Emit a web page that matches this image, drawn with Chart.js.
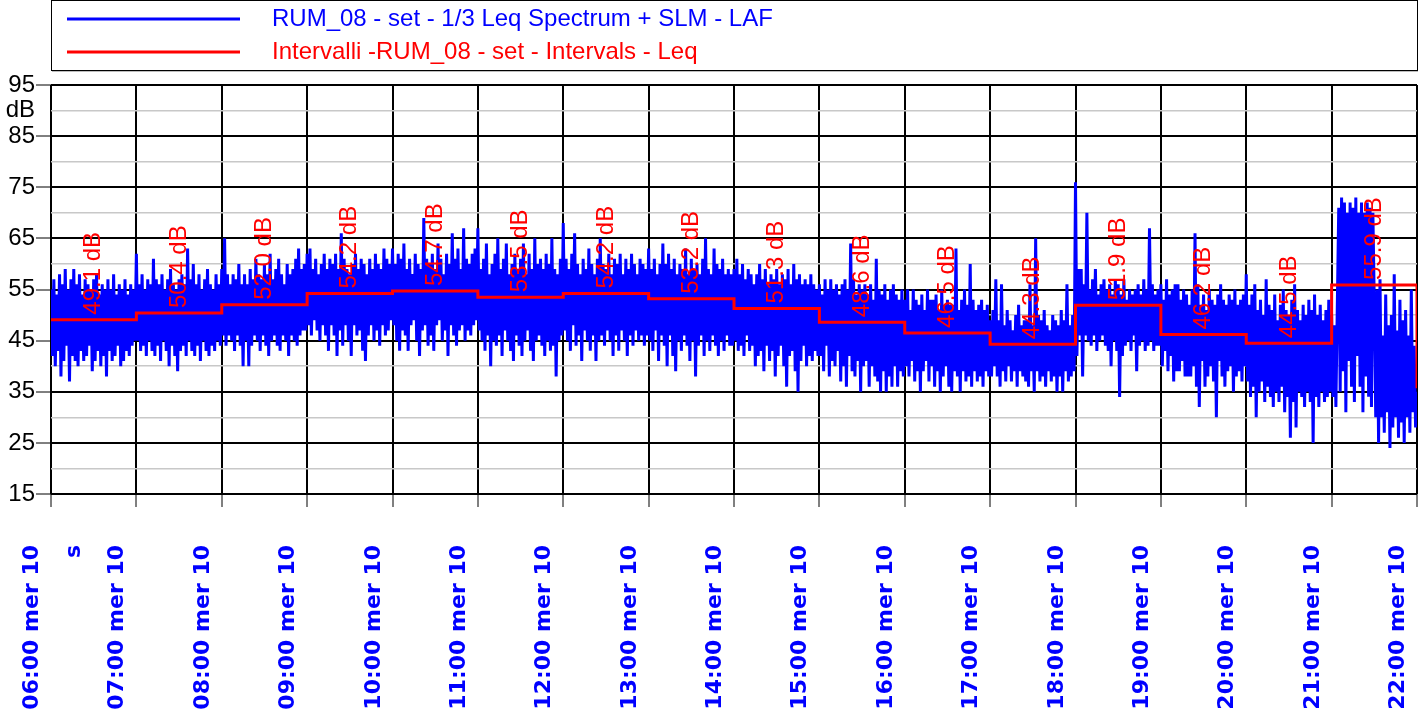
<!DOCTYPE html>
<html>
<head>
<meta charset="utf-8">
<script src="https://cdn.jsdelivr.net/npm/chart.js@4.4.1/dist/chart.umd.min.js"></script>
<style>
html,body{margin:0;padding:0;background:#fff;}
canvas{display:block;}
</style>
</head>
<body>
<canvas id="c" width="1423" height="715"></canvas>
<script>
// ---- DATA ----
const seriesLabels = ['RUM_08 - set - 1/3 Leq Spectrum + SLM - LAF', 'Intervalli -RUM_08 - set - Intervals - Leq'];
const hourTicks = [6,7,8,9,10,11,12,13,14,15,16,17,18,19,20,21,22];
const hourLabels = ['06:00 mer 10','07:00 mer 10','08:00 mer 10','09:00 mer 10','10:00 mer 10','11:00 mer 10','12:00 mer 10','13:00 mer 10','14:00 mer 10','15:00 mer 10','16:00 mer 10','17:00 mer 10','18:00 mer 10','19:00 mer 10','20:00 mer 10','21:00 mer 10','22:00 mer 10'];
const unitLabel = 's';
const yTickValues = [15,25,35,45,55,65,75,85,95];
const yUnit = 'dB';

// Hourly Leq (red step)
const intervalStarts = [6,7,8,9,10,11,12,13,14,15,16,17,18,19,20,21];
const leqValues = [49.1,50.4,52.0,54.2,54.7,53.5,54.2,53.2,51.3,48.6,46.5,44.3,51.9,46.2,44.5,55.9];
const leqAt22 = 35.7;

// LAF readings (blue), 60 per hour
const laf06 = [55,42,57,40,54,43,58,38,56,41,59,44,55,37,57,42,59,41,56,40,58,43,54,41,57,42,56,44,55,39,57,41,58,43,54,40,56,42,55,38,57,43,55,41,58,42,54,44,56,40,55,41,57,43,54,42,56,44,55,45];
const laf07 = [62,45,56,43,58,44,55,42,57,45,56,43,61,42,57,44,56,41,58,45,55,43,57,40,59,44,56,42,55,39,57,43,58,44,56,42,63,45,57,43,60,42,56,44,58,41,55,45,57,43,59,42,56,44,55,43,58,45,56,44];
const laf08 = [59,46,65,44,58,46,56,45,58,43,57,46,60,44,56,40,58,45,56,40,59,44,57,46,61,45,58,43,57,46,60,44,58,42,62,45,57,46,59,44,61,43,58,46,56,45,60,42,58,46,59,45,61,44,63,46,59,47,60,47];
const laf09 = [62,48,63,46,59,49,61,47,58,45,60,48,62,46,59,43,61,48,60,46,62,42,59,47,66,44,61,48,59,45,58,42,60,48,62,46,59,47,61,43,60,41,58,46,61,48,59,45,62,47,60,44,59,48,63,46,61,47,60,49];
const laf10 = [63,48,60,45,62,43,61,47,64,46,59,43,61,48,58,49,62,45,60,42,59,47,69,48,61,44,60,46,62,43,59,48,64,49,61,45,58,47,62,42,60,48,66,46,61,44,63,47,59,48,67,45,61,47,60,46,62,48,63,49];
const laf11 = [67,47,59,45,61,43,64,46,58,40,60,45,62,44,65,46,59,42,61,47,64,45,58,43,60,41,62,46,59,44,61,42,64,45,58,47,62,43,59,41,65,45,60,46,61,44,59,42,62,45,60,43,65,44,59,38,58,45,61,46];
const laf12 = [68,47,61,45,59,43,62,48,66,44,60,46,58,41,61,47,59,45,63,43,60,46,58,41,61,45,65,46,60,44,59,47,62,45,58,42,61,46,60,43,62,47,58,45,61,42,59,46,62,44,60,47,58,45,61,46,60,44,59,46];
const laf13 = [63,45,59,43,61,47,58,41,60,46,64,44,60,40,62,46,59,42,61,39,58,45,60,43,59,46,63,44,58,41,61,45,59,38,60,44,58,46,61,42,65,45,59,43,58,46,63,44,60,42,59,45,61,43,58,46,59,44,58,44];
const laf14 = [59,45,61,43,58,44,60,42,57,46,59,43,58,44,56,40,58,42,60,43,57,39,59,44,56,41,58,43,57,38,59,42,56,44,58,40,57,36,59,42,56,43,60,39,57,35,58,41,56,44,57,40,56,42,58,41,56,43,55,42];
const laf15 = [56,42,54,39,57,44,55,38,57,41,55,40,56,43,54,37,56,40,57,36,55,42,64,39,57,38,54,41,56,35,55,40,56,41,54,36,56,40,53,38,61,37,55,35,54,39,56,35,53,38,55,36,56,40,54,36,53,39,55,38];
const laf16 = [53,40,55,38,51,41,55,37,53,39,52,35,54,39,51,41,55,37,53,40,53,36,54,39,51,35,55,38,52,40,53,36,52,35,52,39,63,38,51,35,53,39,55,37,52,38,60,36,53,39,51,37,52,38,53,36,51,39,52,38];
const laf17 = [49,38,51,40,57,38,49,36,56,39,48,37,51,40,49,37,47,39,50,36,52,39,48,38,49,37,49,36,56,39,48,35,65,39,50,37,49,38,51,36,48,39,47,37,50,38,49,35,48,38,51,35,49,39,56,37,48,38,50,39];
const laf18 = [76,42,59,46,59,38,56,46,70,45,55,44,57,46,59,43,54,45,56,46,57,44,55,43,56,40,54,45,57,43,56,34,54,42,57,44,53,45,55,43,54,46,55,39,56,44,54,45,57,43,55,44,67,45,56,43,54,44,55,44];
const laf19 = [56,40,53,43,57,39,54,42,55,37,56,39,56,39,53,41,55,38,54,38,52,38,55,40,66,36,56,32,52,41,54,36,51,38,55,40,53,37,52,30,54,41,56,38,53,36,52,39,54,40,53,35,55,38,52,39,53,37,54,40];
const laf20 = [58,37,52,34,54,36,56,30,51,35,53,37,50,33,57,36,52,34,51,32,54,35,49,33,52,36,55,31,51,34,50,26,53,33,56,28,51,35,49,34,52,32,50,35,53,33,51,25,54,34,50,32,52,35,49,33,51,34,53,35];
const laf21 = [50,34,48,32,52,71,35,73,39,72,31,70,41,72,36,71,33,73,42,70,36,72,31,70,38,72,34,71,32,70,52,30,55,25,57,30,46,27,54,31,48,24,50,28,58,30,47,26,53,29,49,25,51,30,46,27,55,31,44,28];
const lafAt22 = 35;

// ---- BUILD ----
const lafHours = [laf06,laf07,laf08,laf09,laf10,laf11,laf12,laf13,laf14,laf15,laf16,laf17,laf18,laf19,laf20,laf21];
const lafPoints = [];
lafHours.forEach((arr, h) => {
  arr.forEach((v, i) => lafPoints.push({x: intervalStarts[h] + i / arr.length, y: v}));
});
lafPoints.push({x: 22, y: lafAt22});

const leqPoints = intervalStarts.map((h, i) => ({x: h, y: leqValues[i]}));
leqPoints.push({x: 22, y: leqAt22});

const BLUE = '#0000ff', RED = '#ff0000';
const SANS = '"Liberation Sans", Arial, sans-serif';

const decorPlugin = {
  id: 'decor',
  afterDatasetsDraw(chart) {
    const ctx = chart.ctx, xs = chart.scales.x, ys = chart.scales.y;
    ctx.save();
    ctx.fillStyle = RED;
    ctx.font = '24px ' + SANS;
    ctx.textAlign = 'left';
    ctx.textBaseline = 'middle';
    intervalStarts.forEach((h, i) => {
      const cx = (xs.getPixelForValue(h) + xs.getPixelForValue(h + 1)) / 2;
      const cy = ys.getPixelForValue(leqValues[i]) - 5;
      ctx.save();
      ctx.translate(cx, cy);
      ctx.rotate(-Math.PI / 2);
      ctx.fillText(leqValues[i].toFixed(1) + ' dB', 0, 0);
      ctx.restore();
    });
    ctx.restore();
  },
  afterDraw(chart) {
    const ctx = chart.ctx, xs = chart.scales.x;
    const area = chart.chartArea;
    ctx.save();
    ctx.fillStyle = BLUE;
    ctx.font = 'bold 22px "DejaVu Sans", Verdana, sans-serif';
    ctx.textAlign = 'right';
    ctx.textBaseline = 'alphabetic';
    hourTicks.forEach((h, i) => {
      const px = xs.getPixelForValue(h) - 13;
      ctx.save();
      ctx.translate(px, area.bottom + 51);
      ctx.rotate(-Math.PI / 2);
      ctx.fillText(hourLabels[i], 0, 0);
      ctx.restore();
    });
    ctx.save();
    ctx.translate(xs.getPixelForValue(6) + 29, area.bottom + 51);
    ctx.rotate(-Math.PI / 2);
    ctx.fillText(unitLabel, 0, 0);
    ctx.restore();
    ctx.restore();

    // legend box
    ctx.save();
    const lx = area.left, rx = area.right;
    ctx.fillStyle = '#bdbdbd';
    ctx.fillRect(lx + 1, 70, rx - lx, 2);
    ctx.strokeStyle = '#000';
    ctx.lineWidth = 1;
    ctx.strokeRect(lx + 0.5, 0.5, rx - lx, 70);
    const rows = [{c: BLUE, y: 19}, {c: RED, y: 52}];
    rows.forEach((r, i) => {
      ctx.strokeStyle = r.c;
      ctx.lineWidth = 3;
      ctx.beginPath();
      ctx.moveTo(lx + 16, r.y);
      ctx.lineTo(lx + 189, r.y);
      ctx.stroke();
      ctx.fillStyle = r.c;
      ctx.font = '24px ' + SANS;
      ctx.textAlign = 'left';
      ctx.textBaseline = 'middle';
      ctx.fillText(seriesLabels[i], lx + 221, r.y);
    });
    ctx.restore();
  }
};

new Chart(document.getElementById('c'), {
  type: 'line',
  data: {
    datasets: [
      {label: seriesLabels[1], data: leqPoints, borderColor: RED, borderWidth: 3, stepped: 'before', pointRadius: 0, order: 0},
      {label: seriesLabels[0], data: lafPoints, borderColor: BLUE, borderWidth: 3, pointRadius: 0, tension: 0, order: 1}
    ]
  },
  options: {
    responsive: false,
    animation: false,
    devicePixelRatio: 1,
    layout: {padding: {top: 85, right: 6, left: 0, bottom: 0}},
    plugins: {legend: {display: false}, tooltip: {enabled: false}},
    scales: {
      x: {
        type: 'linear', min: 6, max: 22,
        afterBuildTicks: (s) => { s.ticks = hourTicks.map(v => ({value: v})); },
        afterFit: (s) => { s.height = 221; },
        border: {display: false},
        grid: {color: '#000', lineWidth: 2, tickLength: 13, tickColor: '#000', tickWidth: 1},
        ticks: {display: false, autoSkip: false}
      },
      y: {
        min: 15, max: 95,
        afterBuildTicks: (s) => {
          const t = [];
          for (let v = 15; v <= 95; v += 5) t.push({value: v});
          s.ticks = t;
        },
        afterFit: (s) => { s.width = 51; },
        border: {display: false},
        grid: {
          color: (c) => yTickValues.includes(c.tick.value) ? '#000' : '#c8c8c8',
          lineWidth: (c) => yTickValues.includes(c.tick.value) ? 2 : 1.5,
          tickColor: (c) => yTickValues.includes(c.tick.value) ? '#000' : 'rgba(0,0,0,0)',
          tickWidth: 1,
          tickLength: 15
        },
        ticks: {
          autoSkip: false,
          color: '#000',
          padding: 1,
          font: {family: SANS, size: 24},
          callback: (v) => v === 90 ? yUnit : (yTickValues.includes(v) ? String(v) : '')
        }
      }
    }
  },
  plugins: [decorPlugin]
});
</script>
</body>
</html>
